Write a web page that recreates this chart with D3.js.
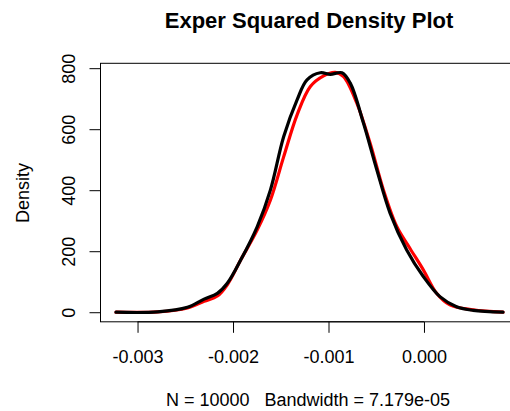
<!DOCTYPE html>
<html>
<head>
<meta charset="utf-8">
<script src="https://cdn.jsdelivr.net/npm/d3@7"></script>
<style>
  body { margin: 0; background: #fff; }
  text { font-family: "Liberation Sans", Arial, sans-serif; fill: #000; }
</style>
</head>
<body>
<div id="container"></div>
<script>
var width = 510, height = 411;

// density curves (x value, density)
var blackX = [-0.003226, -0.00279, -0.002477, -0.002303, -0.002164, -0.00206, -0.00192, -0.001746, -0.001608, -0.001469, -0.001329, -0.001225, -0.001086, -0.000981, -0.000859, -0.000772, -0.000634, -0.000494, -0.000355, -0.000181, -0.000007, 0.000167, 0.000341, 0.000515, 0.000828];
var blackY = [0, 1, 16, 43, 62, 95, 171, 281, 401, 576, 696, 762, 785, 780, 785, 751, 620, 467, 325, 204, 117, 51, 18, 6, 0];

var redX = [-0.003226, -0.00279, -0.002477, -0.002303, -0.002164, -0.00206, -0.00192, -0.001746, -0.001608, -0.001469, -0.001329, -0.00119, -0.001051, -0.000929, -0.000842, -0.000703, -0.000564, -0.000425, -0.000285, -0.000146, -0.000007, 0.000132, 0.000271, 0.000515, 0.000828];
var redY = [0, 1, 14, 36, 53, 90, 171, 270, 368, 510, 647, 740, 775, 786, 772, 685, 554, 401, 281, 209, 139, 62, 24, 8, 0];

var xTicks = [-0.003, -0.002, -0.001, 0.000];
var yTicks = [0, 200, 400, 600, 800];

var svg = d3.select("#container")
    .append("svg")
    .attr("width", width)
    .attr("height", height);

// R style: range + 4%
var x = d3.scaleLinear().domain([-0.003388, 0.00099]).range([100.5, 518.5]);
var y = d3.scaleLinear().domain([-31.4, 816]).range([321.8, 63.3]);

// title
svg.append("text")
    .attr("x", 309).attr("y", 28)
    .attr("text-anchor", "middle")
    .style("font-size", "22px").style("font-weight", "bold")
    .text("Exper Squared Density Plot");

// box
svg.append("rect")
    .attr("x", x.range()[0]).attr("y", y.range()[1])
    .attr("width", x.range()[1] - x.range()[0])
    .attr("height", y.range()[0] - y.range()[1])
    .attr("fill", "none").attr("stroke", "#000").attr("stroke-width", 1);

// x axis (plain hyphen like R)
var fmt = d3.format(".3f");
var xAxis = svg.append("g")
    .attr("transform", "translate(0," + y.range()[0] + ")")
    .call(d3.axisBottom(x).tickValues(xTicks).tickSize(11).tickPadding(17)
        .tickFormat(function(d) { return fmt(d).replace("\u2212", "-"); }));
xAxis.select(".domain").attr("d", "M" + x(xTicks[0]) + ",0H" + x(xTicks[xTicks.length - 1]));
xAxis.selectAll("text").style("font-size", "18px").attr("font-family", null);
xAxis.selectAll("line, path").attr("stroke", "#000");

// y axis
var yAxis = svg.append("g")
    .attr("transform", "translate(" + x.range()[0] + ",0)")
    .call(d3.axisLeft(y).tickValues(yTicks).tickSize(11).tickFormat(d3.format("d")));
yAxis.select(".domain").attr("d", "M0," + y(yTicks[0]) + "V" + y(yTicks[yTicks.length - 1]));
yAxis.selectAll("line, path").attr("stroke", "#000");
yAxis.selectAll("text")
    .attr("x", null).attr("dy", null)
    .attr("text-anchor", "middle")
    .attr("transform", "translate(-25.5,0) rotate(-90)")
    .style("font-size", "18px").attr("font-family", null);

// axis titles
svg.append("text")
    .attr("transform", "translate(29,193) rotate(-90)")
    .attr("text-anchor", "middle")
    .style("font-size", "18px")
    .text("Density");

svg.append("text")
    .attr("x", 308).attr("y", 406)
    .attr("text-anchor", "middle")
    .style("font-size", "18px")
    .style("white-space", "pre")
    .text("N = 10000   Bandwidth = 7.179e-05");

var line = d3.line()
    .x(function(d) { return x(d[0]); })
    .y(function(d) { return y(d[1]); })
    .curve(d3.curveCatmullRom.alpha(0.5));

svg.append("path")
    .datum(d3.zip(redX, redY))
    .attr("d", line)
    .attr("fill", "none").attr("stroke", "#ff0000").attr("stroke-width", 3.2)
    .attr("stroke-linejoin", "round").attr("stroke-linecap", "round");

svg.append("path")
    .datum(d3.zip(blackX, blackY))
    .attr("d", line)
    .attr("fill", "none").attr("stroke", "#000").attr("stroke-width", 3.2)
    .attr("stroke-linejoin", "round").attr("stroke-linecap", "round");
</script>
</body>
</html>
